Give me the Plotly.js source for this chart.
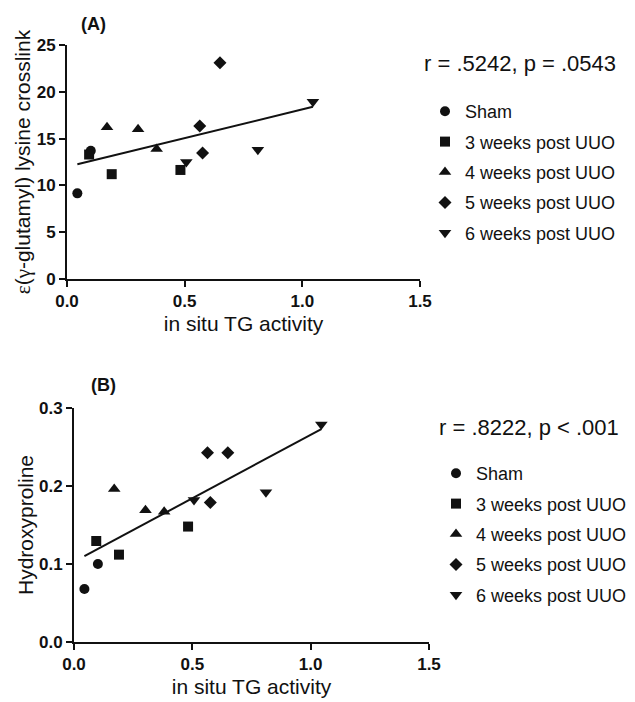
<!DOCTYPE html>
<html>
<head>
<meta charset="utf-8">
<script src="https://cdn.plot.ly/plotly-3.0.1.min.js"></script>
<style>html,body{margin:0;padding:0;background:#fff;}#chart{width:635px;height:702px;}</style>
</head>
<body>
<div id="chart"></div>
<script>
// ---- data ----
const groupNames = ["Sham", "3 weeks post UUO", "4 weeks post UUO", "5 weeks post UUO", "6 weeks post UUO"];
const groupSymbols = ["circle", "square", "triangle-up", "diamond", "triangle-down"];

// in situ TG activity (x) per group
const shamX = [0.044, 0.101];
const w3X = [0.094, 0.19, 0.482];
const w4X = [0.17, 0.302, 0.381];
const w5X = [0.564, 0.576, 0.65];
const w6X = [0.507, 0.811, 1.045];

// Panel A: epsilon(gamma-glutamyl) lysine crosslink
const shamA = [9.15, 13.7];
const w3A = [13.3, 11.2, 11.65];
const w4A = [16.2, 16.0, 13.9];
const w5A = [16.35, 13.46, 23.1];
const w6A = [12.5, 13.8, 18.95];

// Panel B: hydroxyproline
const shamB = [0.068, 0.100];
const w3B = [0.1295, 0.112, 0.148];
const w4B = [0.196, 0.169, 0.167];
const w5B = [0.2425, 0.179, 0.2425];
const w6B = [0.182, 0.192, 0.279];

// regression line end points
const fitX = [0.044, 1.045];
const fitA = [12.25, 18.4];
const fitB = [0.110, 0.273];

const statsA = "r = .5242, p = .0543";
const statsB = "r = .8222, p < .001";

const xTickVals = [0, 0.5, 1.0, 1.5];
const xTickText = ["0.0", "0.5", "1.0", "1.5"];
const yTickValsA = [0, 5, 10, 15, 20, 25];
const yTickTextA = ["0", "5", "10", "15", "20", "25"];
const yTickValsB = [0, 0.1, 0.2, 0.3];
const yTickTextB = ["0.0", "0.1", "0.2", "0.3"];

// ---- build ----
const FONT = "Liberation Sans, Arial, Helvetica, sans-serif";
const INK = "#111111";
const bold = arr => arr.map(s => "<b>" + s + "</b>");
const xs = [shamX, w3X, w4X, w5X, w6X];
const ysA = [shamA, w3A, w4A, w5A, w6A];
const ysB = [shamB, w3B, w4B, w5B, w6B];
const sizes = [10, 10, 11, 10, 11];

const traces = [];
for (let i = 0; i < groupNames.length; i++) {
  traces.push({
    type: "scatter", mode: "markers", x: xs[i], y: ysA[i], xaxis: "x", yaxis: "y",
    name: groupNames[i], legend: "legend", legendgroup: "a" + i,
    marker: {symbol: groupSymbols[i], size: sizes[i], color: INK}, cliponaxis: false
  });
}
for (let i = 0; i < groupNames.length; i++) {
  traces.push({
    type: "scatter", mode: "markers", x: xs[i], y: ysB[i], xaxis: "x2", yaxis: "y2",
    name: groupNames[i], legend: "legend2", legendgroup: "b" + i,
    marker: {symbol: groupSymbols[i], size: sizes[i], color: INK}, cliponaxis: false
  });
}
traces.push({type: "scatter", mode: "lines", x: fitX, y: fitA, xaxis: "x", yaxis: "y",
  line: {color: INK, width: 2}, showlegend: false, cliponaxis: false});
traces.push({type: "scatter", mode: "lines", x: fitX, y: fitB, xaxis: "x2", yaxis: "y2",
  line: {color: INK, width: 2}, showlegend: false, cliponaxis: false});

const W = 635, H = 702;
const px = v => v / W;
const py = v => (H - v) / H;

const axisCommon = {
  showline: true, linecolor: INK, linewidth: 2, mirror: false,
  ticks: "outside", ticklen: 6, tickwidth: 2, tickcolor: INK,
  showgrid: false, zeroline: false, automargin: false,
  tickfont: {family: FONT, size: 17, color: INK}
};

const xTitle = {text: "in situ TG activity", font: {family: FONT, size: 21, color: INK}, standoff: 6};

const layout = {
  width: W, height: H,
  margin: {l: 0, r: 0, t: 0, b: 0},
  paper_bgcolor: "#fff", plot_bgcolor: "#fff",
  showlegend: true,
  xaxis: Object.assign({}, axisCommon, {domain: [px(67), px(420)], range: [0, 1.5], anchor: "y",
    tickvals: xTickVals, ticktext: bold(xTickText), title: xTitle}),
  yaxis: Object.assign({}, axisCommon, {domain: [py(279), py(45)], range: [0, 25], anchor: "x",
    tickvals: yTickValsA, ticktext: bold(yTickTextA),
    title: {text: "<span style='font-family:Liberation Serif'>ε</span>(<span style='font-family:Liberation Serif'>γ</span>-glutamyl) lysine crosslink",
      font: {family: FONT, size: 21, color: INK}, standoff: 0}}),
  xaxis2: Object.assign({}, axisCommon, {domain: [px(74), px(429)], range: [0, 1.5], anchor: "y2",
    tickvals: xTickVals, ticktext: bold(xTickText), title: xTitle}),
  yaxis2: Object.assign({}, axisCommon, {domain: [py(642), py(408)], range: [0, 0.3], anchor: "x2",
    tickvals: yTickValsB, ticktext: bold(yTickTextB),
    title: {text: "Hydroxyproline", font: {family: FONT, size: 21, color: INK}, standoff: 0}}),
  legend: {x: px(425), y: py(93), xanchor: "left", yanchor: "top", tracegroupgap: 4,
    font: {family: FONT, size: 18, color: INK}, bgcolor: "rgba(0,0,0,0)"},
  legend2: {x: px(436), y: py(455), xanchor: "left", yanchor: "top", tracegroupgap: 4,
    font: {family: FONT, size: 18, color: INK}, bgcolor: "rgba(0,0,0,0)"},
  annotations: [
    {xref: "paper", yref: "paper", x: px(79), y: py(24), xanchor: "left", yanchor: "middle",
      text: "<b>(A)</b>", showarrow: false, font: {family: FONT, size: 18, color: INK}},
    {xref: "paper", yref: "paper", x: px(89), y: py(385), xanchor: "left", yanchor: "middle",
      text: "<b>(B)</b>", showarrow: false, font: {family: FONT, size: 18, color: INK}},
    {xref: "paper", yref: "paper", x: px(422), y: py(63), xanchor: "left", yanchor: "middle",
      text: statsA, showarrow: false, font: {family: FONT, size: 22, color: INK}},
    {xref: "paper", yref: "paper", x: px(437), y: py(427), xanchor: "left", yanchor: "middle",
      text: statsB, showarrow: false, font: {family: FONT, size: 22, color: INK}}
  ]
};

Plotly.newPlot("chart", traces, layout, {staticPlot: true, displayModeBar: false});
</script>
</body>
</html>
